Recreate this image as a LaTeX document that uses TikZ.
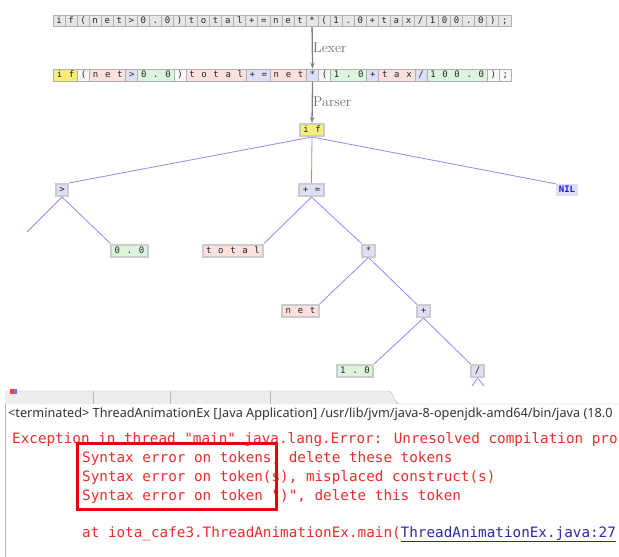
\documentclass[tikz,border=0pt]{standalone}
\usepackage{fontspec}
\newfontfamily\tokfont{DejaVu Sans Mono}
\newfontfamily\uifont{Noto Sans}
\usetikzlibrary{arrows.meta, backgrounds}
\definecolor{tokgray}{HTML}{E6E6E6}
\definecolor{tokyellow}{HTML}{F6EE74}
\definecolor{tokpink}{HTML}{FBE0DE}
\definecolor{toklav}{HTML}{DEDEF6}
\definecolor{tokgreen}{HTML}{DCF4DC}
\definecolor{tokedge}{HTML}{B0B0B0}
\definecolor{treeline}{HTML}{8C8CF5}
\definecolor{nilblue}{HTML}{1E1EE0}
\definecolor{errred}{HTML}{F02C2C}
\definecolor{boxred}{HTML}{E8000C}
\definecolor{linkblue}{HTML}{2B2BA8}
\definecolor{tabgray}{HTML}{EDEDED}
\definecolor{tabline}{HTML}{B8B8B8}
\newcommand{\tokc}[1]{\makebox[12.05pt]{#1}}

\begin{document}
\begin{tikzpicture}[x=1pt, y=-1pt,
  every node/.style={font=\tokfont\fontsize{9}{9}\selectfont},
  chr/.style={draw=tokedge, fill=tokgray, line width=0.8pt, inner sep=0pt,
              minimum height=11pt, text height=6.5pt, text depth=1.5pt, text=black!85},
  tok/.style={draw=tokedge, fill=#1, line width=1pt, inner sep=0pt,
              minimum height=12pt, text height=6.5pt, text depth=1.5pt,
              anchor=west, text=black!85},
  tnode/.style={draw=gray!40, fill=#1, line width=2pt, inner sep=0pt,
                minimum height=12pt, text height=6.5pt, text depth=1.5pt, text=black!85},
  edge/.style={treeline, line width=0.8pt},
  stage/.style={-{Stealth[length=6pt,width=4.5pt]}, gray, line width=1.3pt},
  stagelbl/.style={font=\rmfamily\fontsize{14}{14}\selectfont, text=gray!85!black,
                   anchor=west, inner sep=0pt},
  con/.style={font=\tokfont\fontsize{14.3}{14.3}\selectfont, text=errred,
              anchor=base west, inner sep=0pt}
]
\useasboundingbox (0,0) rectangle (619,557);

% source text, one box per character
\foreach \c [count=\i from 0] in {i,f,{(},n,e,t,{>},0,{.},0,{)},t,o,t,a,l,{+},{=},n,e,t,{*},{(},1,{.},0,{+},t,a,x,{/},1,0,0,{.},0,{)},{;}}
  \node[chr] (s\i) at ({59.03+12.05*\i},21) {\tokc{\c}};

% tokens
\node[tok=tokyellow] (kwif) at (53,75) {\tokc{i}\tokc{f}};
\node[tok=gray!6] (lp1) at (77.1,75) {\tokc{(}};
\node[tok=tokpink] (net1) at (89.15,75) {\tokc{n}\tokc{e}\tokc{t}};
\node[tok=toklav] (gt1) at (125.3,75) {\tokc{>}};
\node[tok=tokgreen] (num1) at (137.35,75) {\tokc{0}\tokc{.}\tokc{0}};
\node[tok=gray!6] (rp1) at (173.5,75) {\tokc{)}};
\node[tok=tokpink] (total1) at (185.55,75) {\tokc{t}\tokc{o}\tokc{t}\tokc{a}\tokc{l}};
\node[tok=toklav] (addeq) at (245.8,75) {\tokc{+}\tokc{=}};
\node[tok=tokpink] (net2) at (269.9,75) {\tokc{n}\tokc{e}\tokc{t}};
\node[tok=toklav] (mul) at (306.05,75) {\tokc{*}};
\node[tok=gray!6] (lp2) at (318.1,75) {\tokc{(}};
\node[tok=tokgreen] (num2) at (330.15,75) {\tokc{1}\tokc{.}\tokc{0}};
\node[tok=toklav] (add) at (366.3,75) {\tokc{+}};
\node[tok=tokpink] (tax) at (378.35,75) {\tokc{t}\tokc{a}\tokc{x}};
\node[tok=toklav] (div) at (414.5,75) {\tokc{/}};
\node[tok=tokgreen] (num3) at (426.55,75) {\tokc{1}\tokc{0}\tokc{0}\tokc{.}\tokc{0}};
\node[tok=gray!6] (rp2) at (486.8,75) {\tokc{)}};
\node[tok=gray!6] (semi) at (498.85,75) {\tokc{;}};

% syntax tree
\node[tnode=tokyellow] (ifn) at (312,130) {\tokc{i}\tokc{f}};
\node[tnode=toklav] (gt) at (62,190) {\tokc{>}};
\node[tnode=toklav] (pluseq) at (311.5,190) {\tokc{+}\tokc{=}};
\node[fill=toklav, text=nilblue, font=\tokfont\bfseries\fontsize{9}{9}\selectfont,
      inner xsep=3pt, inner ysep=0pt, minimum height=12pt,
      text height=6.5pt, text depth=1.5pt] (nil) at (567,190) {NIL};
\node[tnode=tokgreen] (zero) at (129.5,250.5) {\tokc{0}\tokc{.}\tokc{0}};
\node[tnode=tokpink] (total) at (233,250.5) {\tokc{t}\tokc{o}\tokc{t}\tokc{a}\tokc{l}};
\node[tnode=toklav] (star) at (368.5,250.5) {\tokc{*}};
\node[tnode=tokpink] (netb) at (300.5,311) {\tokc{n}\tokc{e}\tokc{t}};
\node[tnode=toklav] (plus) at (423.5,311) {\tokc{+}};
\node[tnode=tokgreen] (one) at (355,371) {\tokc{1}\tokc{.}\tokc{0}};
\node[tnode=toklav] (slash) at (477.5,371) {\tokc{/}};
\coordinate (gtl) at (27,232);
\coordinate (sll) at (472,386);
\coordinate (slr) at (484,386);

\begin{scope}[on background layer]
  \draw[edge] (ifn.south) -- (gt.north east);
  \draw[edge] (ifn.south) -- (pluseq.north);
  \draw[edge] (ifn.south) -- (nil.north west);
  \draw[edge] (gt.south) -- (gtl);
  \draw[edge] (gt.south) -- (zero.north west);
  \draw[edge] (pluseq.south) -- (total.north east);
  \draw[edge] (pluseq.south) -- (star.north west);
  \draw[edge] (star.south) -- (netb.north east);
  \draw[edge] (star.south) -- (plus.north west);
  \draw[edge] (plus.south) -- (one.north east);
  \draw[edge] (plus.south) -- (slash.north west);
  \draw[edge] (slash.south) -- (sll);
  \draw[edge] (slash.south) -- (slr);
\end{scope}

% stages
\draw[stage] (s21.south) -- (mul.north);
\node[stagelbl] (lexer) at (313,48) {Lexer};
\draw[stage] (mul.south) -- (ifn.north);
\node[stagelbl] (parser) at (313,102) {Parser};

% console screenshot
\begin{scope}
  \clip (0,386) rectangle (619,557);
  \fill[white] (0,386) rectangle (619,557);
  \fill[tabgray] (5,391) -- (388,391) .. controls (394,391) and (394,404) .. (400,404) -- (5,404) -- cycle;
  \draw[tabline] (5,404) -- (5,557);
  \draw[tabline] (5,391) -- (388,391) .. controls (394,391) and (394,404) .. (400,404) -- (619,404);
  \foreach \tx in {93,170,270}
    \draw[tabline] (\tx,391) -- (\tx,404);
  \fill[red!75] (10,389) rectangle (14,394);
  \fill[blue!55] (14,389) rectangle (17,394);
  \node[font=\uifont\fontsize{12.7}{12.7}\selectfont, text=black!80, anchor=base west,
        inner sep=0pt] (term) at (8,417)
    {<terminated> ThreadAnimationEx [Java Application] /usr/lib/jvm/java-8-openjdk-amd64/bin/java (18.0};
  \node[con] (exc) at (12,443) {Exception in thread "main" java.lang.Error: Unresolved compilation pro};
  \node[con] (err1) at (82,462) {Syntax error on tokens, delete these tokens};
  \node[con] (err2) at (82,481) {Syntax error on token(s), misplaced construct(s)};
  \node[con] (err3) at (82,500) {Syntax error on token ")", delete this token};
  \node[con] (trace) at (82,537) {at iota\_cafe3.ThreadAnimationEx.main(\textcolor{linkblue}{\underline{ThreadAnimationEx.java:27}}};
  \draw[boxred, line width=3pt] (77,443) rectangle (276,509);
\end{scope}
\end{tikzpicture}
\end{document}
